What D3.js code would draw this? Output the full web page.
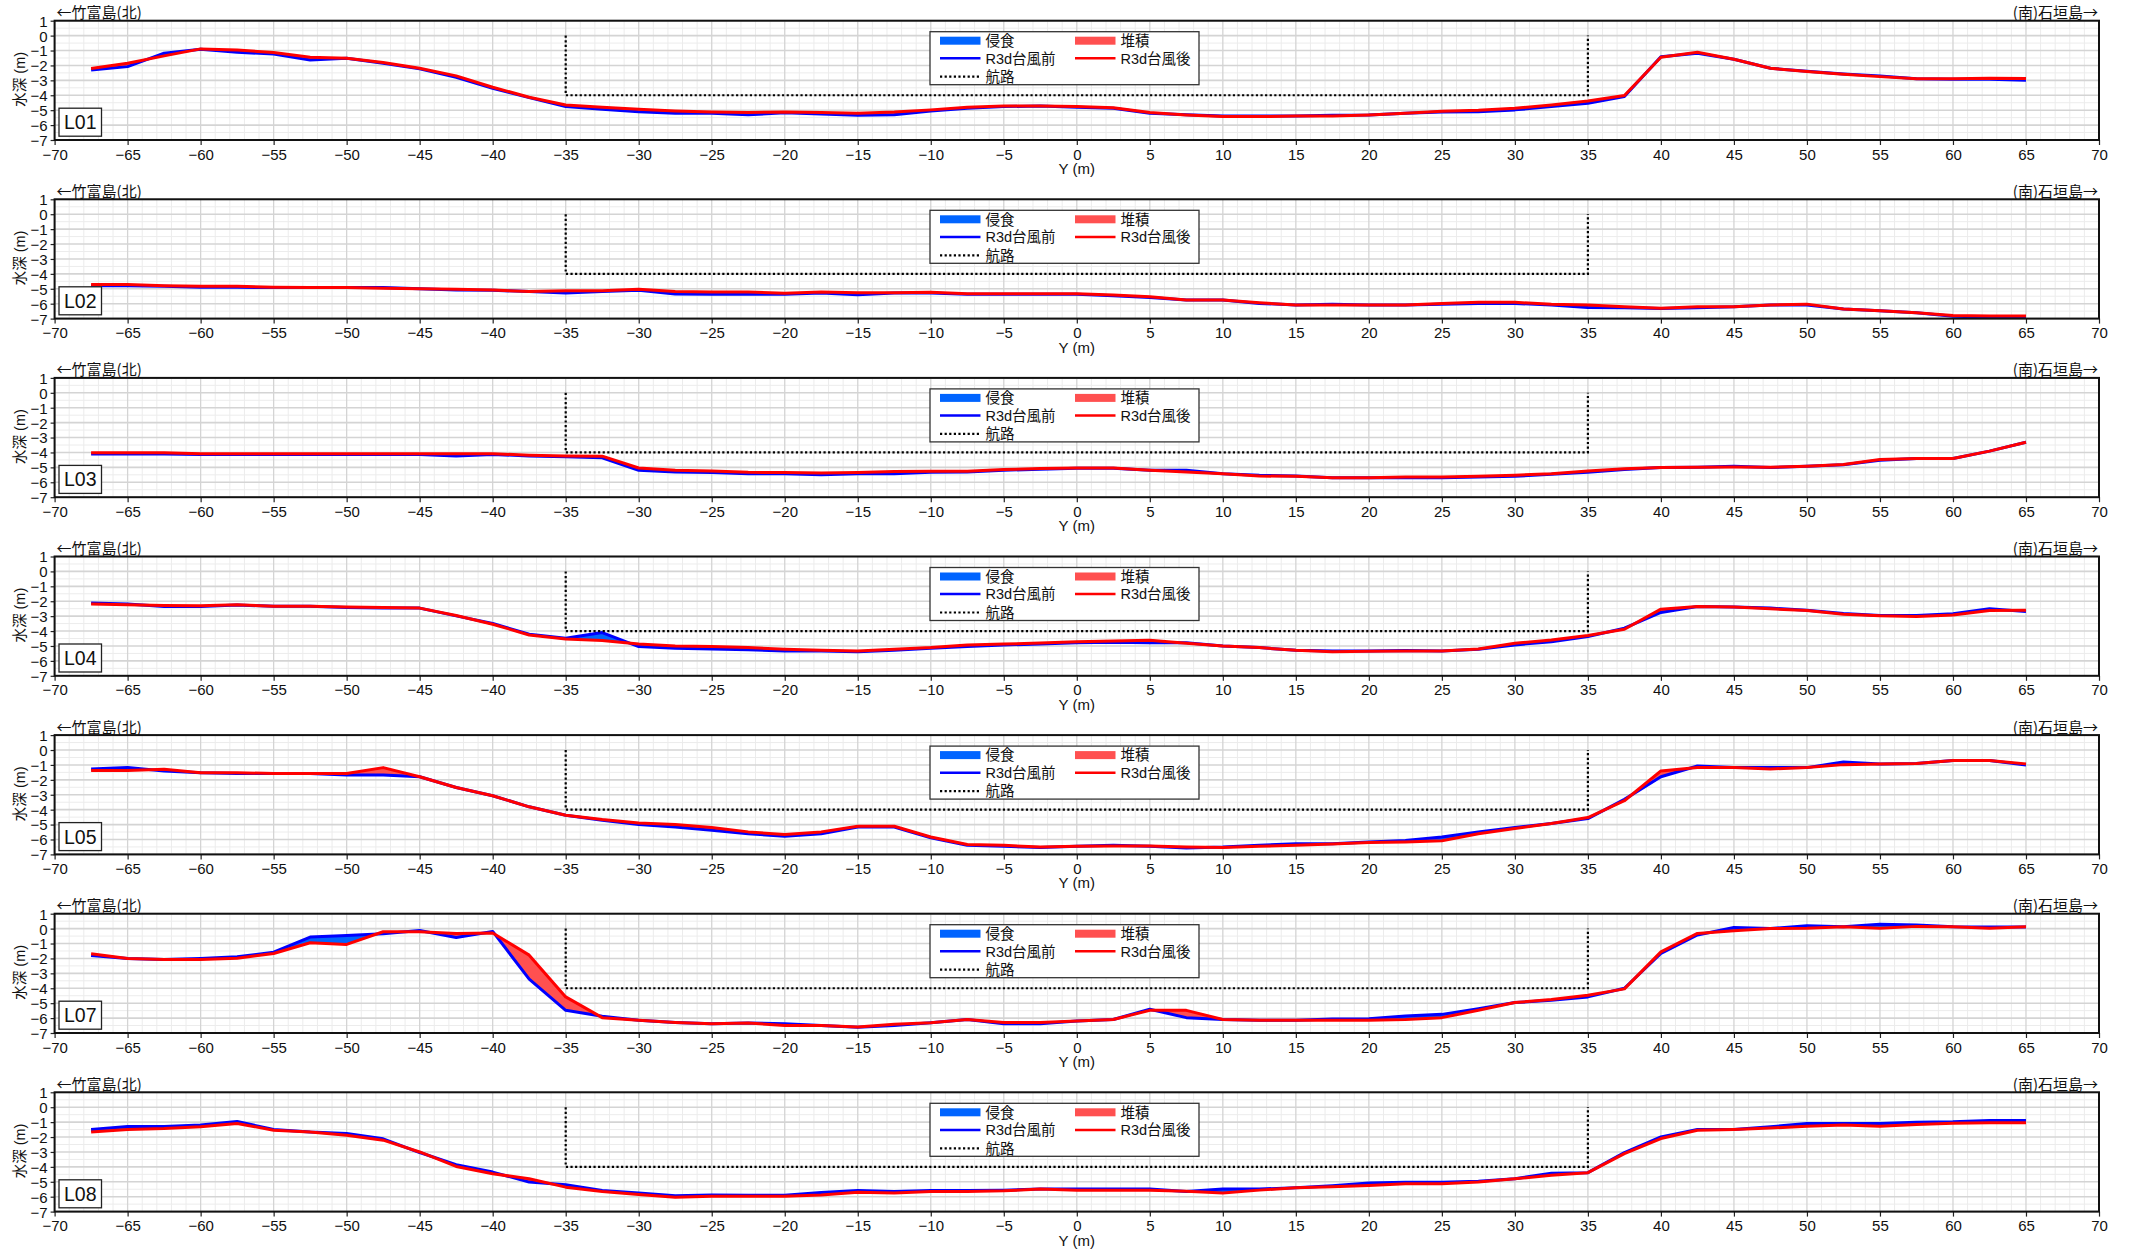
<!DOCTYPE html>
<html lang="ja">
<head>
<meta charset="utf-8">
<script src="https://cdn.jsdelivr.net/npm/d3@7"></script>
<style>
  html, body { margin: 0; padding: 0; background: #fff; }
  svg { display: block; }
  text { font-family: "Liberation Sans", Arial, "Noto Sans CJK JP", sans-serif; fill: #111; }
  text.cjk { font-family: "Noto Sans CJK JP", "Liberation Sans", sans-serif; }
</style>
</head>
<body>
<div id="chart"></div>
<script>
// Survey stations along each cross-section line (m)
const stations = [-67.5,-65,-62.5,-60,-57.5,-55,-52.5,-50,-47.5,-45,-42.5,-40,-37.5,-35,-32.5,-30,-27.5,-25,
  -22.5,-20,-17.5,-15,-12.5,-10,-7.5,-5,-2.5,0,2.5,5,7.5,10,12.5,15,17.5,20,22.5,
  25,27.5,30,32.5,35,37.5,40,42.5,45,47.5,50,52.5,55,57.5,60,62.5,65];

const lineNames = ["L01","L02","L03","L04","L05","L07","L08"];

// Depth before typhoon (R3d台風前) and after (R3d台風後), m
const beforeL01 = [-2.3,-2.08,-1.18,-0.92,-1.12,-1.23,-1.63,-1.52,-1.85,-2.23,-2.79,-3.53,-4.16,-4.76,-4.94,-5.1,-5.2,-5.2,
  -5.3,-5.18,-5.25,-5.34,-5.3,-5.05,-4.87,-4.76,-4.72,-4.8,-4.87,-5.2,-5.3,-5.39,-5.39,-5.39,-5.34,-5.32,-5.2,
  -5.12,-5.1,-4.98,-4.76,-4.54,-4.09,-1.41,-1.18,-1.59,-2.19,-2.39,-2.57,-2.7,-2.9,-2.93,-2.93,-2.99];
const afterL01 = [-2.2,-1.85,-1.36,-0.89,-0.96,-1.14,-1.45,-1.52,-1.81,-2.19,-2.7,-3.46,-4.13,-4.65,-4.8,-4.94,-5.05,-5.12,
  -5.16,-5.12,-5.16,-5.2,-5.12,-4.98,-4.8,-4.72,-4.72,-4.76,-4.83,-5.16,-5.32,-5.43,-5.43,-5.39,-5.39,-5.32,-5.2,
  -5.07,-5.0,-4.87,-4.65,-4.38,-4.02,-1.45,-1.12,-1.59,-2.19,-2.41,-2.59,-2.75,-2.9,-2.9,-2.86,-2.88];

const beforeL02 = [-4.79,-4.79,-4.83,-4.9,-4.9,-4.92,-4.92,-4.92,-4.92,-4.99,-5.08,-5.1,-5.19,-5.28,-5.19,-5.1,-5.35,-5.37,
  -5.37,-5.37,-5.28,-5.4,-5.28,-5.28,-5.37,-5.37,-5.37,-5.37,-5.46,-5.58,-5.76,-5.76,-5.98,-6.09,-6.03,-6.09,-6.09,
  -6.03,-5.98,-5.98,-6.09,-6.25,-6.27,-6.32,-6.27,-6.21,-6.09,-6.09,-6.36,-6.48,-6.61,-6.84,-6.9,-6.88];
const afterL02 = [-4.72,-4.72,-4.79,-4.83,-4.83,-4.9,-4.92,-4.92,-4.97,-4.99,-5.04,-5.08,-5.19,-5.13,-5.13,-5.04,-5.19,-5.22,
  -5.22,-5.3,-5.22,-5.26,-5.26,-5.24,-5.33,-5.33,-5.33,-5.33,-5.42,-5.53,-5.76,-5.76,-5.94,-6.09,-6.09,-6.09,-6.09,
  -5.98,-5.91,-5.91,-6.03,-6.09,-6.21,-6.3,-6.21,-6.21,-6.09,-6.03,-6.36,-6.48,-6.61,-6.79,-6.82,-6.82];

const beforeL03 = [-4.11,-4.11,-4.11,-4.14,-4.14,-4.14,-4.14,-4.14,-4.14,-4.14,-4.23,-4.14,-4.23,-4.29,-4.36,-5.19,-5.31,-5.34,
  -5.42,-5.42,-5.49,-5.42,-5.42,-5.33,-5.31,-5.19,-5.13,-5.06,-5.06,-5.19,-5.19,-5.42,-5.53,-5.58,-5.69,-5.69,-5.69,
  -5.69,-5.64,-5.6,-5.46,-5.33,-5.15,-5.01,-4.99,-4.92,-5.01,-4.92,-4.83,-4.52,-4.41,-4.41,-3.91,-3.32];
const afterL03 = [-4.02,-4.02,-4.02,-4.09,-4.09,-4.09,-4.09,-4.09,-4.09,-4.09,-4.09,-4.09,-4.18,-4.23,-4.25,-5.04,-5.19,-5.24,
  -5.33,-5.35,-5.37,-5.35,-5.28,-5.26,-5.26,-5.15,-5.08,-5.04,-5.04,-5.19,-5.31,-5.42,-5.58,-5.6,-5.69,-5.69,-5.64,
  -5.64,-5.6,-5.53,-5.42,-5.24,-5.1,-5.01,-4.99,-4.97,-4.99,-4.92,-4.81,-4.47,-4.41,-4.41,-3.91,-3.32];

const beforeL04 = [-2.12,-2.19,-2.35,-2.35,-2.26,-2.33,-2.33,-2.42,-2.46,-2.46,-2.98,-3.49,-4.21,-4.48,-4.1,-5.04,-5.16,-5.2,
  -5.25,-5.34,-5.34,-5.38,-5.29,-5.16,-5.04,-4.93,-4.87,-4.78,-4.75,-4.78,-4.78,-5.0,-5.11,-5.29,-5.34,-5.34,-5.31,
  -5.34,-5.22,-4.93,-4.71,-4.37,-3.81,-2.75,-2.35,-2.39,-2.46,-2.6,-2.82,-2.96,-2.96,-2.84,-2.51,-2.69];
const afterL04 = [-2.19,-2.24,-2.28,-2.3,-2.24,-2.33,-2.33,-2.39,-2.42,-2.46,-2.96,-3.54,-4.26,-4.53,-4.64,-4.87,-5.0,-5.04,
  -5.11,-5.22,-5.29,-5.34,-5.22,-5.11,-4.93,-4.87,-4.8,-4.71,-4.66,-4.62,-4.82,-5.0,-5.11,-5.29,-5.38,-5.36,-5.34,
  -5.34,-5.2,-4.82,-4.6,-4.3,-3.88,-2.53,-2.35,-2.39,-2.51,-2.62,-2.87,-2.98,-3.02,-2.93,-2.62,-2.6];

const beforeL05 = [-1.27,-1.18,-1.4,-1.52,-1.58,-1.58,-1.58,-1.67,-1.67,-1.79,-2.51,-3.07,-3.81,-4.37,-4.71,-5.0,-5.16,-5.38,
  -5.61,-5.79,-5.61,-5.16,-5.16,-5.88,-6.39,-6.46,-6.53,-6.46,-6.39,-6.46,-6.57,-6.51,-6.39,-6.28,-6.28,-6.17,-6.06,
  -5.83,-5.49,-5.2,-4.93,-4.6,-3.31,-1.79,-1.07,-1.18,-1.18,-1.18,-0.8,-0.93,-0.91,-0.71,-0.71,-1.0];
const afterL05 = [-1.38,-1.38,-1.29,-1.52,-1.52,-1.58,-1.58,-1.58,-1.18,-1.79,-2.51,-3.07,-3.81,-4.37,-4.66,-4.89,-5.0,-5.2,
  -5.49,-5.67,-5.49,-5.11,-5.11,-5.83,-6.33,-6.39,-6.51,-6.46,-6.44,-6.44,-6.51,-6.53,-6.46,-6.39,-6.3,-6.21,-6.17,
  -6.08,-5.61,-5.27,-4.93,-4.53,-3.4,-1.4,-1.18,-1.18,-1.27,-1.18,-0.98,-0.93,-0.91,-0.71,-0.71,-0.93];

const beforeL07 = [-1.8,-2.0,-2.07,-2.0,-1.89,-1.58,-0.57,-0.46,-0.35,-0.12,-0.59,-0.19,-3.39,-5.48,-5.88,-6.15,-6.29,-6.38,
  -6.33,-6.38,-6.49,-6.62,-6.49,-6.31,-6.09,-6.38,-6.38,-6.2,-6.09,-5.41,-5.97,-6.09,-6.15,-6.15,-6.06,-6.04,-5.86,
  -5.75,-5.37,-4.96,-4.81,-4.58,-4.0,-1.67,-0.43,0.08,0.01,0.19,0.12,0.3,0.24,0.12,0.1,0.1];
const afterL07 = [-1.69,-2.0,-2.07,-2.07,-1.98,-1.67,-0.95,-1.06,-0.21,-0.21,-0.32,-0.3,-1.78,-4.58,-5.97,-6.15,-6.29,-6.38,
  -6.33,-6.49,-6.49,-6.6,-6.42,-6.31,-6.09,-6.29,-6.29,-6.2,-6.09,-5.48,-5.48,-6.09,-6.15,-6.15,-6.15,-6.15,-6.09,
  -5.97,-5.48,-4.96,-4.76,-4.47,-4.04,-1.56,-0.32,-0.14,0.01,0.03,0.12,0.03,0.15,0.12,0.03,0.12];

const beforeL08 = [-1.49,-1.29,-1.29,-1.2,-0.96,-1.49,-1.67,-1.76,-2.12,-3.04,-3.85,-4.35,-5.02,-5.2,-5.58,-5.76,-5.94,-5.88,
  -5.9,-5.9,-5.72,-5.58,-5.65,-5.58,-5.58,-5.56,-5.49,-5.49,-5.49,-5.49,-5.65,-5.49,-5.49,-5.4,-5.27,-5.09,-5.04,
  -5.04,-4.96,-4.8,-4.42,-4.39,-3.04,-1.99,-1.49,-1.49,-1.31,-1.09,-1.09,-1.09,-1.0,-0.98,-0.89,-0.89];
const afterL08 = [-1.67,-1.49,-1.43,-1.31,-1.09,-1.54,-1.67,-1.88,-2.21,-3.0,-3.97,-4.46,-4.8,-5.36,-5.65,-5.85,-6.03,-5.97,
  -5.97,-5.97,-5.88,-5.7,-5.76,-5.65,-5.65,-5.61,-5.49,-5.56,-5.56,-5.56,-5.63,-5.76,-5.56,-5.4,-5.34,-5.25,-5.13,
  -5.13,-5.02,-4.8,-4.57,-4.39,-3.11,-2.1,-1.54,-1.49,-1.4,-1.27,-1.2,-1.27,-1.16,-1.07,-1.04,-1.04];

const beforeSeries = [beforeL01, beforeL02, beforeL03, beforeL04, beforeL05, beforeL07, beforeL08];
const afterSeries  = [afterL01, afterL02, afterL03, afterL04, afterL05, afterL07, afterL08];

// Navigation channel outline (Y, depth)
const channelX = [-35, -35, 35, 35];
const channelZ = [0, -4, -4, 0];

// Axis ticks
const xTicks = d3.range(-70, 71, 5);
const yTicks = [1, 0, -1, -2, -3, -4, -5, -6, -7];

const legendLabels = { erosion: "侵食", deposition: "堆積", before: "R3d台風前", after: "R3d台風後", channel: "航路" };
const northLabel = "←竹富島(北)";
const southLabel = "(南)石垣島→";
const yAxisTitle = "水深 (m)";
const xAxisTitle = "Y (m)";

// ---- drawing ----
const W = 2136, H = 1252;
const left = 54.6, right = 2099;
const top0 = 20.7, step = 178.6, ph = 119.3;

const C = {
  erosionFill: "#0064ff",
  depositionFill: "#ff5050",
  beforeLine: "#0000ff",
  afterLine: "#ff0000",
  gridMajor: "#d4d4d4",
  gridMinor: "#ececec"
};

const svg = d3.select("#chart").append("svg").attr("width", W).attr("height", H);

const x = d3.scaleLinear().domain([-70, 70]).range([left, right]);

// Split profile segments where the two surfaces cross, so the
// erosion/deposition bands switch colour exactly at the crossing.
function refine(xs, a, b) {
  const pts = [];
  for (let i = 0; i < xs.length; i++) {
    pts.push({ x: xs[i], a: a[i], b: b[i] });
    if (i < xs.length - 1) {
      const d0 = b[i] - a[i], d1 = b[i + 1] - a[i + 1];
      if (d0 * d1 < 0) {
        const t = d0 / (d0 - d1);
        const xi = xs[i] + t * (xs[i + 1] - xs[i]);
        const zi = a[i] + t * (a[i + 1] - a[i]);
        pts.push({ x: xi, a: zi, b: zi });
      }
    }
  }
  return pts;
}

lineNames.forEach((name, k) => {
  const top = top0 + k * step;
  const bottom = top + ph;
  const y = d3.scaleLinear().domain([-7, 1]).range([bottom, top]);
  const g = svg.append("g");

  // grid
  const grid = g.append("g");
  d3.range(-70, 71, 1).filter(v => v % 5 !== 0).forEach(v => {
    grid.append("line").attr("x1", x(v)).attr("x2", x(v)).attr("y1", top).attr("y2", bottom)
      .attr("stroke", C.gridMinor).attr("stroke-width", 1);
  });
  d3.range(-7, 1.01, 0.5).filter(v => !Number.isInteger(v)).forEach(v => {
    grid.append("line").attr("x1", left).attr("x2", right).attr("y1", y(v)).attr("y2", y(v))
      .attr("stroke", C.gridMinor).attr("stroke-width", 1);
  });
  xTicks.forEach(v => {
    grid.append("line").attr("x1", x(v)).attr("x2", x(v)).attr("y1", top).attr("y2", bottom)
      .attr("stroke", C.gridMajor).attr("stroke-width", 1.3);
  });
  yTicks.forEach(v => {
    grid.append("line").attr("x1", left).attr("x2", right).attr("y1", y(v)).attr("y2", y(v))
      .attr("stroke", C.gridMajor).attr("stroke-width", 1.6);
  });

  // erosion / deposition bands
  const before = beforeSeries[k], after = afterSeries[k];
  const pts = refine(stations, before, after);
  const erosion = d3.area().x(d => x(d.x)).y0(d => y(d.a)).y1(d => y(Math.min(d.a, d.b)));
  const deposition = d3.area().x(d => x(d.x)).y0(d => y(d.a)).y1(d => y(Math.max(d.a, d.b)));
  g.append("path").datum(pts).attr("d", erosion).attr("fill", C.erosionFill);
  g.append("path").datum(pts).attr("d", deposition).attr("fill", C.depositionFill);

  // profiles
  const line = d3.line().x((d, i) => x(stations[i])).y(d => y(d));
  g.append("path").datum(before).attr("d", line).attr("fill", "none")
    .attr("stroke", C.beforeLine).attr("stroke-width", 3).attr("stroke-linejoin", "round");
  g.append("path").datum(after).attr("d", line).attr("fill", "none")
    .attr("stroke", C.afterLine).attr("stroke-width", 3).attr("stroke-linejoin", "round");

  // navigation channel
  const ch = d3.line().x(d => x(d[0])).y(d => y(d[1]));
  g.append("path").datum(channelX.map((v, i) => [v, channelZ[i]])).attr("d", ch)
    .attr("fill", "none").attr("stroke", "#000").attr("stroke-width", 2.2).attr("stroke-dasharray", "2.2,2.4");

  // axes
  const xAxis = d3.axisBottom(x).tickValues(xTicks).tickSize(5).tickPadding(4).tickFormat(d3.format("d"));
  const gx = g.append("g").attr("transform", `translate(0,${bottom})`).call(xAxis);
  const yAxis = d3.axisLeft(y).tickValues(yTicks).tickSize(4).tickPadding(3).tickFormat(d3.format("d"));
  const gy = g.append("g").attr("transform", `translate(${left},0)`).call(yAxis);
  [gx, gy].forEach(a => {
    a.select(".domain").remove();
    a.selectAll("line").attr("stroke", "#222").attr("stroke-width", 1.2);
    a.selectAll("text").style("font-size", "15px").attr("fill", "#111")
      .style("font-family", '"Liberation Sans", Arial, sans-serif');
  });
  gy.selectAll("text").attr("dy", "0.36em");

  // frame
  g.append("rect").attr("x", left).attr("y", top).attr("width", right - left).attr("height", ph)
    .attr("fill", "none").attr("stroke", "#111").attr("stroke-width", 2);

  // titles
  g.append("text").attr("class", "cjk").attr("x", left + 2).attr("y", top - 2.5).style("font-size", "15px").text(northLabel);
  g.append("text").attr("class", "cjk").attr("x", right - 1).attr("y", top - 2.5).attr("text-anchor", "end")
    .style("font-size", "15px").text(southLabel);
  g.append("text").attr("transform", `translate(${left - 35},${top + ph / 2 - 1}) rotate(-90)`)
    .attr("text-anchor", "middle").attr("dy", "0.35em").style("font-size", "14.5px").text(yAxisTitle);
  g.append("text").attr("x", x(0)).attr("y", bottom + 34).attr("text-anchor", "middle")
    .style("font-size", "15px").text(xAxisTitle);

  // line id box
  g.append("rect").attr("x", 59).attr("y", top + 87.5).attr("width", 42.5).attr("height", 28)
    .attr("fill", "#fff").attr("stroke", "#222").attr("stroke-width", 1.3);
  g.append("text").attr("x", 80.25).attr("y", top + 101.5).attr("text-anchor", "middle").attr("dy", "0.36em")
    .style("font-size", "19.5px").text(name);

  // legend
  const lg = g.append("g").attr("transform", `translate(930,${top + 11})`);
  lg.append("rect").attr("width", 269).attr("height", 53).attr("fill", "#fff")
    .attr("stroke", "#333").attr("stroke-width", 1.3);
  const rows = [9, 26.6, 45];
  const col = [10, 145];
  const sw = 40.5;
  lg.append("rect").attr("x", col[0]).attr("y", rows[0] - 4).attr("width", sw).attr("height", 8).attr("fill", C.erosionFill);
  lg.append("rect").attr("x", col[1]).attr("y", rows[0] - 4).attr("width", sw).attr("height", 8).attr("fill", C.depositionFill);
  lg.append("line").attr("x1", col[0]).attr("x2", col[0] + sw).attr("y1", rows[1]).attr("y2", rows[1])
    .attr("stroke", C.beforeLine).attr("stroke-width", 2.5);
  lg.append("line").attr("x1", col[1]).attr("x2", col[1] + sw).attr("y1", rows[1]).attr("y2", rows[1])
    .attr("stroke", C.afterLine).attr("stroke-width", 2.5);
  lg.append("line").attr("x1", col[0]).attr("x2", col[0] + sw).attr("y1", rows[2]).attr("y2", rows[2])
    .attr("stroke", "#000").attr("stroke-width", 2.2).attr("stroke-dasharray", "2.2,2.4");
  const lt = [[legendLabels.erosion, 0, 0], [legendLabels.deposition, 1, 0], [legendLabels.before, 0, 1],
              [legendLabels.after, 1, 1], [legendLabels.channel, 0, 2]];
  lt.forEach(([t, c, r]) => {
    lg.append("text").attr("x", col[c] + sw + 5).attr("y", rows[r]).attr("dy", "0.36em")
      .style("font-size", "14.5px").text(t);
  });
});
</script>
</body>
</html>
